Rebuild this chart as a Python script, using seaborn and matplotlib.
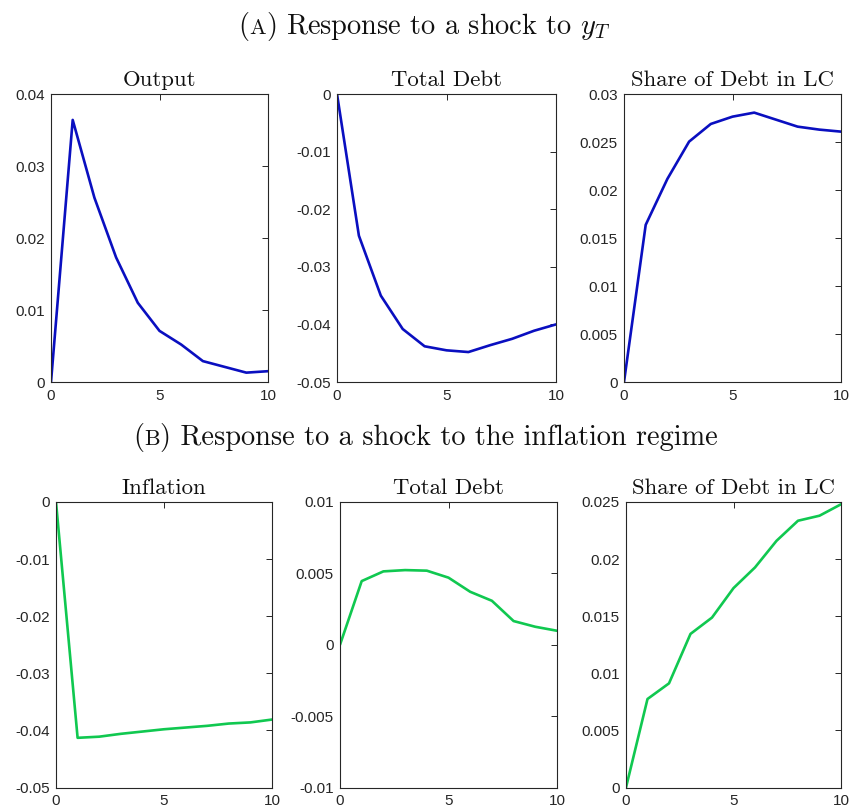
import numpy as np
import pandas as pd
import matplotlib
matplotlib.use("Agg")
import matplotlib.pyplot as plt
import seaborn as sns
from matplotlib.offsetbox import TextArea, HPacker, AnchoredOffsetbox

# ---- data ----
horizon = list(range(11))
output_yT = [0.0, 0.0364, 0.0256, 0.0173, 0.0110, 0.0071, 0.0052, 0.0029, 0.0021, 0.0013, 0.0015]
debt_yT = [0.0, -0.0246, -0.0350, -0.0408, -0.0438, -0.0445, -0.0448, -0.0436, -0.0425, -0.0411, -0.0400]
share_yT = [0.0, 0.01637, 0.02116, 0.02504, 0.02688, 0.02764, 0.02806, 0.02733, 0.0266, 0.02629, 0.02608]
infl_reg = [0.0, -0.0413, -0.0411, -0.0406, -0.0402, -0.0398, -0.0395, -0.0392, -0.0388, -0.0386, -0.0381]
debt_reg = [0.0, 0.00446, 0.00514, 0.00523, 0.00519, 0.0047, 0.00371, 0.00308, 0.00166, 0.00126, 0.00098]
share_reg = [0.0, 0.00775, 0.00912, 0.01345, 0.01488, 0.01746, 0.01927, 0.0216, 0.02336, 0.0238, 0.0248]

titles_top = ["Output", "Total Debt", "Share of Debt in LC"]
titles_bot = ["Inflation", "Total Debt", "Share of Debt in LC"]
ylims_top = [(0, 0.04), (-0.05, 0), (0, 0.03)]
ylims_bot = [(-0.05, 0), (-0.01, 0.01), (0, 0.025)]
yticks_top = [[0, 0.01, 0.02, 0.03, 0.04], [-0.05, -0.04, -0.03, -0.02, -0.01, 0],
              [0, 0.005, 0.01, 0.015, 0.02, 0.025, 0.03]]
yticks_bot = [[-0.05, -0.04, -0.03, -0.02, -0.01, 0], [-0.01, -0.005, 0, 0.005, 0.01],
              [0, 0.005, 0.01, 0.015, 0.02, 0.025]]
xticks = [0, 5, 10]

blue = "#0a0fc0"
green = "#10c850"

sns.set_style("white")
plt.rcParams["axes.unicode_minus"] = False
plt.rcParams["mathtext.fontset"] = "cm"
plt.rcParams["font.family"] = ["Liberation Sans", "DejaVu Sans"]

fig = plt.figure(figsize=(8.52, 8.11), dpi=100)

W, H = 852.0, 811.0
def rect(l, r, t, b):
    return [l / W, (H - b) / H, (r - l) / W, (b - t) / H]

pos_top = [rect(51, 268, 94, 382), rect(337, 556, 94, 382), rect(624, 841, 94, 382)]
pos_bot = [rect(56, 272, 502, 787.5), rect(340, 557, 502, 787.5), rect(626, 841, 502, 787.5)]

def fmt(v):
    if v == 0:
        return "0"
    s = ("%.3f" % v).rstrip("0")
    return s

def panel(pos, y, color, title, ylim, yt):
    ax = fig.add_axes(pos)
    df = pd.DataFrame({"h": horizon, "v": y})
    sns.lineplot(data=df, x="h", y="v", ax=ax, color=color, lw=1.9)
    ax.set_xlim(0, 10)
    ax.set_ylim(*ylim)
    ax.set_xticks(xticks)
    ax.set_xticklabels([str(t) for t in xticks])
    ax.set_yticks(yt)
    ax.set_yticklabels([fmt(t) for t in yt])
    ax.set_xlabel("")
    ax.set_ylabel("")
    ax.tick_params(direction="in", length=4, width=0.7, top=True, right=True,
                   labelsize=11, colors="#262626", pad=4.5)
    ax.tick_params(axis="x", pad=5)
    for s in ax.spines.values():
        s.set_color("#262626")
        s.set_linewidth(0.8)
        s.set_visible(True)
    ax.set_title(title, fontfamily="cmr10", fontsize=16.4, pad=6, color="#111111")
    return ax

for i, y in enumerate([output_yT, debt_yT, share_yT]):
    panel(pos_top[i], y, blue, titles_top[i], ylims_top[i], yticks_top[i])
for i, y in enumerate([infl_reg, debt_reg, share_reg]):
    panel(pos_bot[i], y, green, titles_bot[i], ylims_bot[i], yticks_bot[i])

def suptitle(letter, rest, x, y, size=20.4):
    tp = dict(fontfamily="cmr10", fontsize=size, color="#111111")
    tps = dict(fontfamily="cmr10", fontsize=size * 0.78, color="#111111")
    parts = [TextArea("(", textprops=tp), TextArea(letter, textprops=tps),
             TextArea(")" + rest, textprops=tp)]
    box = HPacker(children=parts, align="baseline", pad=0, sep=0)
    ab = AnchoredOffsetbox(loc="center", child=box, pad=0, frameon=False,
                           bbox_to_anchor=(x, y), bbox_transform=fig.transFigure,
                           borderpad=0)
    fig.add_artist(ab)

suptitle("A", r" Response to a shock to $y_T$", 0.498, 0.967)
suptitle("B", " Response to a shock to the inflation regime", 0.4995, 0.461)

fig.savefig("out.png", dpi=100)
